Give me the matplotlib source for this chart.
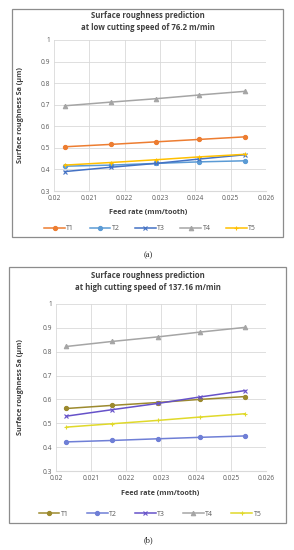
import matplotlib
matplotlib.use("Agg")
import matplotlib.pyplot as plt
from matplotlib.patches import Rectangle
from matplotlib.lines import Line2D

W, H = 294, 550

feed = [0.0203, 0.0216, 0.0229, 0.0241, 0.0254]
series_names = ["T1", "T2", "T3", "T4", "T5"]

low_T1 = [0.505, 0.516, 0.528, 0.539, 0.551]
low_T2 = [0.415, 0.420, 0.428, 0.435, 0.440]
low_T3 = [0.390, 0.410, 0.428, 0.448, 0.468]
low_T4 = [0.695, 0.712, 0.728, 0.745, 0.762]
low_T5 = [0.420, 0.432, 0.445, 0.458, 0.470]

high_T1 = [0.562, 0.575, 0.587, 0.600, 0.612]
high_T2 = [0.422, 0.428, 0.435, 0.441, 0.447]
high_T3 = [0.530, 0.557, 0.583, 0.610, 0.637]
high_T4 = [0.822, 0.843, 0.862, 0.882, 0.902]
high_T5 = [0.484, 0.498, 0.512, 0.526, 0.540]

xticks = [0.02, 0.021, 0.022, 0.023, 0.024, 0.025, 0.026]
xtick_labels = ["0.02", "0.021", "0.022", "0.023", "0.024", "0.025", "0.026"]
yticks = [0.3, 0.4, 0.5, 0.6, 0.7, 0.8, 0.9, 1.0]
ytick_labels = ["0.3", "0.4", "0.5", "0.6", "0.7", "0.8", "0.9", "1"]

low_colors = ["#ED7D31", "#5B9BD5", "#4472C4", "#A5A5A5", "#FFC000"]
high_colors = ["#9C8A2E", "#6F7FD6", "#6652C9", "#A5A5A5", "#E0D92A"]
markers = ["o", "o", "x", "^", "+"]

FONT = "Open Sans"
plt.rcParams["font.family"] = [FONT, "DejaVu Sans"]

fig = plt.figure(figsize=(W / 100, H / 100), dpi=100)


def ax_rect(l, r, t, b):
    return [l / W, (H - b) / H, (r - l) / W, (b - t) / H]


def box(l, r, t, b):
    fig.patches.append(Rectangle((l / W, (H - b) / H), (r - l) / W, (b - t) / H,
                                 transform=fig.transFigure, fill=False,
                                 edgecolor="#8C8C8C", linewidth=0.9))


def panel(rect, data, colors, title, xl_y, leg_y, ylab_x):
    ax = fig.add_axes(rect)
    for vals, c, m, name in zip(data, colors, markers, series_names):
        ax.plot(feed, vals, color=c, marker=m, markersize=3.2 if m != "o" else 3.0,
                linewidth=1.1, markeredgewidth=0.8, label=name)
    ax.set_xlim(0.02, 0.026)
    ax.set_ylim(0.3, 1.0)
    ax.set_xticks(xticks)
    ax.set_xticklabels(xtick_labels)
    ax.set_yticks(yticks)
    ax.set_yticklabels(ytick_labels)
    ax.grid(True, color="#D9D9D9", linewidth=0.6)
    ax.set_axisbelow(True)
    for s in ["top", "right", "left"]:
        ax.spines[s].set_visible(False)
    ax.spines["bottom"].set_color("#D9D9D9")
    ax.tick_params(axis="both", length=0, labelsize=4.8, colors="#595959", pad=3)
    fig.text(0.5 * (rect[0] * 2 + rect[2]) / 1.0 * 0 + 0.5, 0, "")
    return ax


# Top panel
box(12, 283, 9, 237)
ax1 = panel(ax_rect(54, 266, 40, 191), [low_T1, low_T2, low_T3, low_T4, low_T5],
            low_colors, "", 213, 229, 20)
fig.text(148 / W, 1 - 16 / H, "Surface roughness prediction", ha="center", va="center",
         fontsize=5.6, fontweight="bold", color="#404040")
fig.text(148 / W, 1 - 28 / H, "at low cutting speed of 76.2 m/min", ha="center", va="center",
         fontsize=5.6, fontweight="bold", color="#404040")
fig.text(148 / W, 1 - 213 / H, "Feed rate (mm/tooth)", ha="center", va="center",
         fontsize=5.2, fontweight="bold", color="#404040")
fig.text(21 / W, 1 - 115 / H, "Surface roughness Sa (μm)", ha="center", va="center",
         rotation=90, fontsize=5.2, fontweight="bold", color="#404040")
h1, l1 = ax1.get_legend_handles_labels()
fig.legend(h1, l1, loc="center", bbox_to_anchor=(150 / W, 1 - 229 / H), ncol=5,
           frameon=False, fontsize=5.0, handlelength=3.0, columnspacing=2.2,
           handletextpad=0.2, labelcolor="#595959")
fig.text(148 / W, 1 - 255 / H, "(a)", ha="center", va="center", fontsize=6,
         family="Liberation Serif", color="#222222")

# Bottom panel
box(9, 286, 267, 523)
ax2 = panel(ax_rect(56, 266, 304, 471), [high_T1, high_T2, high_T3, high_T4, high_T5],
            high_colors, "", 493, 514, 17)
fig.text(148 / W, 1 - 276 / H, "Surface roughness prediction", ha="center", va="center",
         fontsize=5.6, fontweight="bold", color="#404040")
fig.text(148 / W, 1 - 287 / H, "at high cutting speed of 137.16 m/min", ha="center", va="center",
         fontsize=5.6, fontweight="bold", color="#404040")
fig.text(160 / W, 1 - 493 / H, "Feed rate (mm/tooth)", ha="center", va="center",
         fontsize=5.2, fontweight="bold", color="#404040")
fig.text(20 / W, 1 - 387 / H, "Surface roughness Sa (μm)", ha="center", va="center",
         rotation=90, fontsize=5.2, fontweight="bold", color="#404040")
h2, l2 = ax2.get_legend_handles_labels()
fig.legend(h2, l2, loc="center", bbox_to_anchor=(150 / W, 1 - 514 / H), ncol=5,
           frameon=False, fontsize=5.0, handlelength=3.0, columnspacing=2.6,
           handletextpad=0.2, labelcolor="#595959")
fig.text(148 / W, 1 - 540 / H, "(b)", ha="center", va="center", fontsize=6,
         family="Liberation Serif", color="#222222")

fig.savefig("out.png", dpi=100)
